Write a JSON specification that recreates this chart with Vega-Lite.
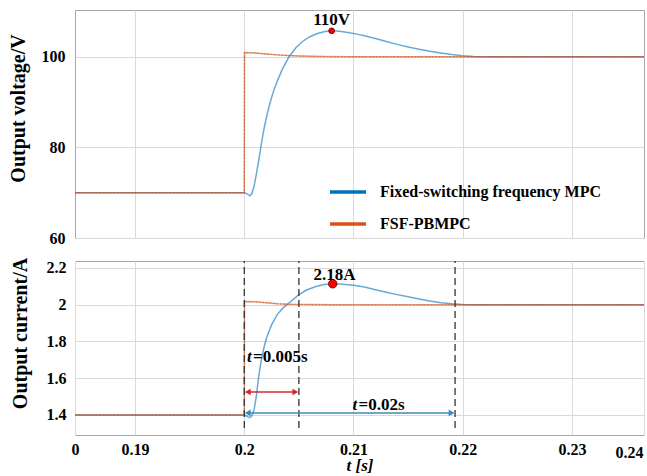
{
  "$schema": "https://vega.github.io/schema/vega-lite/v6.json",
  "padding": {"left": 7, "top": 9, "right": 1, "bottom": 0},
  "spacing": 9,
  "resolve": {"scale": {"x": "independent", "y": "independent", "color": "independent"}, "legend": {"color": "independent"}},
  "datasets": {
    "voltage": [
      {"method": "Fixed-switching frequency MPC", "t": 0.1845, "v": 70},
      {"method": "Fixed-switching frequency MPC", "t": 0.2, "v": 70},
      {"method": "Fixed-switching frequency MPC", "t": 0.2003, "v": 69.7},
      {"method": "Fixed-switching frequency MPC", "t": 0.2005, "v": 69.3},
      {"method": "Fixed-switching frequency MPC", "t": 0.2007, "v": 69.8},
      {"method": "Fixed-switching frequency MPC", "t": 0.2009, "v": 71.5},
      {"method": "Fixed-switching frequency MPC", "t": 0.2011, "v": 74},
      {"method": "Fixed-switching frequency MPC", "t": 0.2013, "v": 76.8},
      {"method": "Fixed-switching frequency MPC", "t": 0.2015, "v": 79.8},
      {"method": "Fixed-switching frequency MPC", "t": 0.2017, "v": 82.7},
      {"method": "Fixed-switching frequency MPC", "t": 0.2019, "v": 85.2},
      {"method": "Fixed-switching frequency MPC", "t": 0.2021, "v": 87.4},
      {"method": "Fixed-switching frequency MPC", "t": 0.2023, "v": 89.3},
      {"method": "Fixed-switching frequency MPC", "t": 0.2026, "v": 91.8},
      {"method": "Fixed-switching frequency MPC", "t": 0.203, "v": 94.5},
      {"method": "Fixed-switching frequency MPC", "t": 0.2035, "v": 97.3},
      {"method": "Fixed-switching frequency MPC", "t": 0.2041, "v": 100},
      {"method": "Fixed-switching frequency MPC", "t": 0.2047, "v": 101.9},
      {"method": "Fixed-switching frequency MPC", "t": 0.2053, "v": 103.3},
      {"method": "Fixed-switching frequency MPC", "t": 0.206, "v": 104.4},
      {"method": "Fixed-switching frequency MPC", "t": 0.2067, "v": 105.1},
      {"method": "Fixed-switching frequency MPC", "t": 0.2074, "v": 105.55},
      {"method": "Fixed-switching frequency MPC", "t": 0.208, "v": 105.7},
      {"method": "Fixed-switching frequency MPC", "t": 0.2087, "v": 105.62},
      {"method": "Fixed-switching frequency MPC", "t": 0.2095, "v": 105.35},
      {"method": "Fixed-switching frequency MPC", "t": 0.2103, "v": 104.98},
      {"method": "Fixed-switching frequency MPC", "t": 0.211, "v": 104.6},
      {"method": "Fixed-switching frequency MPC", "t": 0.212, "v": 104.0},
      {"method": "Fixed-switching frequency MPC", "t": 0.213, "v": 103.35},
      {"method": "Fixed-switching frequency MPC", "t": 0.214, "v": 102.72},
      {"method": "Fixed-switching frequency MPC", "t": 0.215, "v": 102.15},
      {"method": "Fixed-switching frequency MPC", "t": 0.216, "v": 101.63},
      {"method": "Fixed-switching frequency MPC", "t": 0.217, "v": 101.18},
      {"method": "Fixed-switching frequency MPC", "t": 0.218, "v": 100.8},
      {"method": "Fixed-switching frequency MPC", "t": 0.219, "v": 100.47},
      {"method": "Fixed-switching frequency MPC", "t": 0.22, "v": 100.2},
      {"method": "Fixed-switching frequency MPC", "t": 0.221, "v": 100.05},
      {"method": "Fixed-switching frequency MPC", "t": 0.222, "v": 100},
      {"method": "Fixed-switching frequency MPC", "t": 0.2366, "v": 100},
      {"method": "FSF-PBMPC", "t": 0.1845, "v": 70},
      {"method": "FSF-PBMPC", "t": 0.2, "v": 70},
      {"method": "FSF-PBMPC", "t": 0.20002, "v": 100.9},
      {"method": "FSF-PBMPC", "t": 0.201, "v": 100.8},
      {"method": "FSF-PBMPC", "t": 0.202, "v": 100.6},
      {"method": "FSF-PBMPC", "t": 0.203, "v": 100.4},
      {"method": "FSF-PBMPC", "t": 0.204, "v": 100.25},
      {"method": "FSF-PBMPC", "t": 0.205, "v": 100.15},
      {"method": "FSF-PBMPC", "t": 0.207, "v": 100.05},
      {"method": "FSF-PBMPC", "t": 0.21, "v": 100},
      {"method": "FSF-PBMPC", "t": 0.2366, "v": 100}
    ],
    "current": [
      {"method": "Fixed-switching frequency MPC", "t": 0.1845, "i": 1.4},
      {"method": "Fixed-switching frequency MPC", "t": 0.2, "i": 1.4},
      {"method": "Fixed-switching frequency MPC", "t": 0.2003, "i": 1.392},
      {"method": "Fixed-switching frequency MPC", "t": 0.2005, "i": 1.386},
      {"method": "Fixed-switching frequency MPC", "t": 0.2007, "i": 1.395},
      {"method": "Fixed-switching frequency MPC", "t": 0.2009, "i": 1.43},
      {"method": "Fixed-switching frequency MPC", "t": 0.2011, "i": 1.5},
      {"method": "Fixed-switching frequency MPC", "t": 0.2013, "i": 1.6},
      {"method": "Fixed-switching frequency MPC", "t": 0.2015, "i": 1.68},
      {"method": "Fixed-switching frequency MPC", "t": 0.2017, "i": 1.74},
      {"method": "Fixed-switching frequency MPC", "t": 0.2019, "i": 1.79},
      {"method": "Fixed-switching frequency MPC", "t": 0.2021, "i": 1.83},
      {"method": "Fixed-switching frequency MPC", "t": 0.2025, "i": 1.89},
      {"method": "Fixed-switching frequency MPC", "t": 0.203, "i": 1.945},
      {"method": "Fixed-switching frequency MPC", "t": 0.2035, "i": 1.98},
      {"method": "Fixed-switching frequency MPC", "t": 0.2039, "i": 2.0},
      {"method": "Fixed-switching frequency MPC", "t": 0.2045, "i": 2.03},
      {"method": "Fixed-switching frequency MPC", "t": 0.205, "i": 2.055},
      {"method": "Fixed-switching frequency MPC", "t": 0.2057, "i": 2.08},
      {"method": "Fixed-switching frequency MPC", "t": 0.2065, "i": 2.098},
      {"method": "Fixed-switching frequency MPC", "t": 0.2073, "i": 2.11},
      {"method": "Fixed-switching frequency MPC", "t": 0.2081, "i": 2.114},
      {"method": "Fixed-switching frequency MPC", "t": 0.209, "i": 2.112},
      {"method": "Fixed-switching frequency MPC", "t": 0.21, "i": 2.106},
      {"method": "Fixed-switching frequency MPC", "t": 0.211, "i": 2.096},
      {"method": "Fixed-switching frequency MPC", "t": 0.212, "i": 2.082},
      {"method": "Fixed-switching frequency MPC", "t": 0.213, "i": 2.068},
      {"method": "Fixed-switching frequency MPC", "t": 0.214, "i": 2.055},
      {"method": "Fixed-switching frequency MPC", "t": 0.215, "i": 2.043},
      {"method": "Fixed-switching frequency MPC", "t": 0.216, "i": 2.031},
      {"method": "Fixed-switching frequency MPC", "t": 0.217, "i": 2.02},
      {"method": "Fixed-switching frequency MPC", "t": 0.218, "i": 2.011},
      {"method": "Fixed-switching frequency MPC", "t": 0.219, "i": 2.005},
      {"method": "Fixed-switching frequency MPC", "t": 0.22, "i": 2.001},
      {"method": "Fixed-switching frequency MPC", "t": 0.221, "i": 2.0},
      {"method": "Fixed-switching frequency MPC", "t": 0.2366, "i": 2.0},
      {"method": "FSF-PBMPC", "t": 0.1845, "i": 1.4},
      {"method": "FSF-PBMPC", "t": 0.2, "i": 1.4},
      {"method": "FSF-PBMPC", "t": 0.20002, "i": 2.018},
      {"method": "FSF-PBMPC", "t": 0.201, "i": 2.016},
      {"method": "FSF-PBMPC", "t": 0.202, "i": 2.011},
      {"method": "FSF-PBMPC", "t": 0.203, "i": 2.006},
      {"method": "FSF-PBMPC", "t": 0.204, "i": 2.003},
      {"method": "FSF-PBMPC", "t": 0.206, "i": 2.001},
      {"method": "FSF-PBMPC", "t": 0.208, "i": 2.0},
      {"method": "FSF-PBMPC", "t": 0.2366, "i": 2.0}
    ],
    "arrows": [
      {"a": 0.2003, "b": 0.2047, "y": 1.525, "kind": "span5ms"},
      {"a": 0.2003, "b": 0.219, "y": 1.411, "kind": "span20ms"}
    ],
    "heads": [
      {"t": 0.20032, "y": 1.525, "kind": "span5ms", "s": "triangle-left"},
      {"t": 0.20468, "y": 1.525, "kind": "span5ms", "s": "triangle-right"},
      {"t": 0.20032, "y": 1.411, "kind": "span20ms", "s": "triangle-left"},
      {"t": 0.21898, "y": 1.411, "kind": "span20ms", "s": "triangle-right"}
    ]
  },
  "vconcat": [
    {
      "width": 569,
      "height": 228,
      "layer": [
        {
          "data": {"name": "voltage"},
          "mark": {"type": "line", "strokeWidth": 1.5, "opacity": 0.6},
          "encoding": {
            "x": {"field": "t", "type": "quantitative", "scale": {"domain": [0.1845, 0.2366], "nice": false, "zero": false},
                  "axis": {"values": [0.19, 0.2, 0.21, 0.22, 0.23], "labels": false, "title": null, "grid": true, "minExtent": 0, "maxExtent": 0}},
            "y": {"field": "v", "type": "quantitative", "scale": {"domain": [60, 110.3], "nice": false, "zero": false},
                  "axis": {"values": [60, 80, 100], "title": "Output voltage/V", "titleFontSize": 20, "labelPadding": 10, "titlePadding": 13, "titleY": 98, "grid": true}},
            "color": {"field": "method", "type": "nominal",
                      "scale": {"domain": ["Fixed-switching frequency MPC", "FSF-PBMPC"], "range": ["#0072bd", "#d95319"]},
                      "legend": {"orient": "none", "legendX": 253, "legendY": 162, "title": null, "symbolType": "stroke", "symbolSize": 1300, "symbolStrokeWidth": 3.5, "symbolOpacity": 1, "labelFont": "Liberation Serif", "labelFontWeight": "bold", "labelFontSize": 16, "labelColor": "#000", "labelOffset": 12, "rowPadding": 4, "labelLimit": 400}}
          }
        },
        {
          "data": {"name": "voltage"},
          "transform": [{"filter": "datum.method === 'FSF-PBMPC'"}],
          "mark": {"type": "line", "strokeWidth": 1.2, "color": "#b04a24", "opacity": 0.45, "strokeDash": [1.5, 2]},
          "encoding": {
            "x": {"field": "t", "type": "quantitative"},
            "y": {"field": "v", "type": "quantitative"}
          }
        },
        {
          "data": {"values": [{"t": 0.208, "v": 105.7, "label": "110V", "ly": 108.0}]},
          "layer": [
            {
              "mark": {"type": "point", "filled": true, "color": "#ff0000", "stroke": "#7a0000", "strokeWidth": 1, "size": 32, "opacity": 1},
              "encoding": {"x": {"field": "t", "type": "quantitative"}, "y": {"field": "v", "type": "quantitative"}}
            },
            {
              "mark": {"type": "text", "fontSize": 17, "align": "center", "baseline": "middle", "color": "#000"},
              "encoding": {"x": {"field": "t", "type": "quantitative"}, "y": {"field": "ly", "type": "quantitative"}, "text": {"field": "label"}}
            }
          ]
        }
      ]
    },
    {
      "width": 569,
      "height": 174,
      "layer": [
        {
          "data": {"name": "current"},
          "mark": {"type": "line", "strokeWidth": 1.5, "opacity": 0.6},
          "encoding": {
            "x": {"field": "t", "type": "quantitative", "scale": {"domain": [0.1845, 0.2366], "nice": false, "zero": false},
                  "axis": {"values": [0.1845, 0.19, 0.2, 0.21, 0.22, 0.23, 0.2366], "labelExpr": "datum.value < 0.185 ? '0' : datum.value > 0.236 ? '0.24' : format(datum.value, '~g')",
                           "labelFlush": false, "labelOverlap": false,
                           "labelPadding": {"condition": {"test": "datum.value > 0.236", "value": 9}, "value": 6},
                           "labelOffset": {"condition": {"test": "datum.value > 0.236", "value": -15}, "value": 0},
                           "title": "t [s]", "titleFontStyle": "italic", "titleFontSize": 17, "titlePadding": -3, "grid": true}},
            "y": {"field": "i", "type": "quantitative", "scale": {"domain": [1.291, 2.238], "nice": false, "zero": false},
                  "axis": {"values": [1.4, 1.6, 1.8, 2, 2.2], "labelExpr": "format(datum.value, '~g')", "title": "Output current/A", "titleFontSize": 20, "labelPadding": 9, "titlePadding": 16, "titleY": 72, "grid": true}},
            "color": {"field": "method", "type": "nominal",
                      "scale": {"domain": ["Fixed-switching frequency MPC", "FSF-PBMPC"], "range": ["#0072bd", "#d95319"]},
                      "legend": null}
          }
        },
        {
          "data": {"name": "current"},
          "transform": [{"filter": "datum.method === 'FSF-PBMPC'"}],
          "mark": {"type": "line", "strokeWidth": 1.2, "color": "#b04a24", "opacity": 0.45, "strokeDash": [1.5, 2]},
          "encoding": {
            "x": {"field": "t", "type": "quantitative"},
            "y": {"field": "i", "type": "quantitative"}
          }
        },
        {
          "data": {"values": [{"t": 0.2, "y0": 1.329, "y1": 2.238}, {"t": 0.205, "y0": 1.329, "y1": 2.238}, {"t": 0.2193, "y0": 1.329, "y1": 2.238}]},
          "mark": {"type": "rule", "color": "#333333", "strokeWidth": 1.3, "strokeDash": [7, 4]},
          "encoding": {"x": {"field": "t", "type": "quantitative"}, "y": {"field": "y0", "type": "quantitative"}, "y2": {"field": "y1"}}
        },
        {
          "data": {"name": "arrows"},
          "transform": [{"filter": "datum.kind === 'span5ms'"}],
          "mark": {"type": "rule", "strokeWidth": 1.5, "color": "#d9262b"},
          "encoding": {"x": {"field": "a", "type": "quantitative"}, "x2": {"field": "b"}, "y": {"field": "y", "type": "quantitative"}}
        },
        {
          "data": {"name": "arrows"},
          "transform": [{"filter": "datum.kind === 'span20ms'"}],
          "mark": {"type": "rule", "strokeWidth": 1.5, "color": "#3b8db5"},
          "encoding": {"x": {"field": "a", "type": "quantitative"}, "x2": {"field": "b"}, "y": {"field": "y", "type": "quantitative"}}
        },
        {
          "data": {"name": "heads"},
          "transform": [{"filter": "datum.kind === 'span5ms'"}],
          "mark": {"type": "point", "filled": true, "size": 45, "opacity": 1, "color": "#d9262b"},
          "encoding": {"x": {"field": "t", "type": "quantitative"}, "y": {"field": "y", "type": "quantitative"},
                       "shape": {"field": "s", "type": "nominal", "scale": null}}
        },
        {
          "data": {"name": "heads"},
          "transform": [{"filter": "datum.kind === 'span20ms'"}],
          "mark": {"type": "point", "filled": true, "size": 45, "opacity": 1, "color": "#3b8db5"},
          "encoding": {"x": {"field": "t", "type": "quantitative"}, "y": {"field": "y", "type": "quantitative"},
                       "shape": {"field": "s", "type": "nominal", "scale": null}}
        },
        {
          "data": {"values": [{"t": 0.2081, "i": 2.114}]},
          "mark": {"type": "point", "filled": true, "color": "#ff0000", "stroke": "#7a0000", "strokeWidth": 1, "size": 70, "opacity": 1},
          "encoding": {"x": {"field": "t", "type": "quantitative"}, "y": {"field": "i", "type": "quantitative"}}
        },
        {
          "data": {"values": [
            {"t": 0.20827, "y": 2.163, "label": "2.18A", "al": "center", "st": "normal"},
            {"t": 0.20025, "y": 1.716, "label": "t", "al": "left", "st": "italic"},
            {"t": 0.20025, "y": 1.716, "label": "=0.005s", "al": "left", "st": "normal"},
            {"t": 0.20991, "y": 1.454, "label": "t", "al": "left", "st": "italic"},
            {"t": 0.20991, "y": 1.454, "label": "=0.02s", "al": "left", "st": "normal"}
          ]},
          "layer": [
            {
              "transform": [{"filter": "datum.al === 'center'"}],
              "mark": {"type": "text", "fontSize": 17, "align": "center", "baseline": "middle", "color": "#000"},
              "encoding": {"x": {"field": "t", "type": "quantitative"}, "y": {"field": "y", "type": "quantitative"}, "text": {"field": "label"}}
            },
            {
              "transform": [{"filter": "datum.st === 'italic'"}],
              "mark": {"type": "text", "fontSize": 17, "align": "left", "baseline": "middle", "fontStyle": "italic", "color": "#000"},
              "encoding": {"x": {"field": "t", "type": "quantitative"}, "y": {"field": "y", "type": "quantitative"}, "text": {"field": "label"}}
            },
            {
              "transform": [{"filter": "datum.al === 'left' && datum.st === 'normal'"}],
              "mark": {"type": "text", "fontSize": 17, "align": "left", "baseline": "middle", "dx": 6, "color": "#000"},
              "encoding": {"x": {"field": "t", "type": "quantitative"}, "y": {"field": "y", "type": "quantitative"}, "text": {"field": "label"}}
            }
          ]
        }
      ]
    }
  ],
  "config": {
    "view": {"stroke": "#a8a8a8", "strokeWidth": 1},
    "axis": {"labelFont": "Liberation Serif", "labelFontWeight": "bold", "labelFontSize": 16, "labelColor": "#000",
             "titleFont": "Liberation Serif", "titleFontWeight": "bold", "titleColor": "#000",
             "gridColor": "#d9d9d9", "gridOpacity": 1, "domain": false, "ticks": false},
    "text": {"font": "Liberation Serif", "fontWeight": "bold"}
  }
}
